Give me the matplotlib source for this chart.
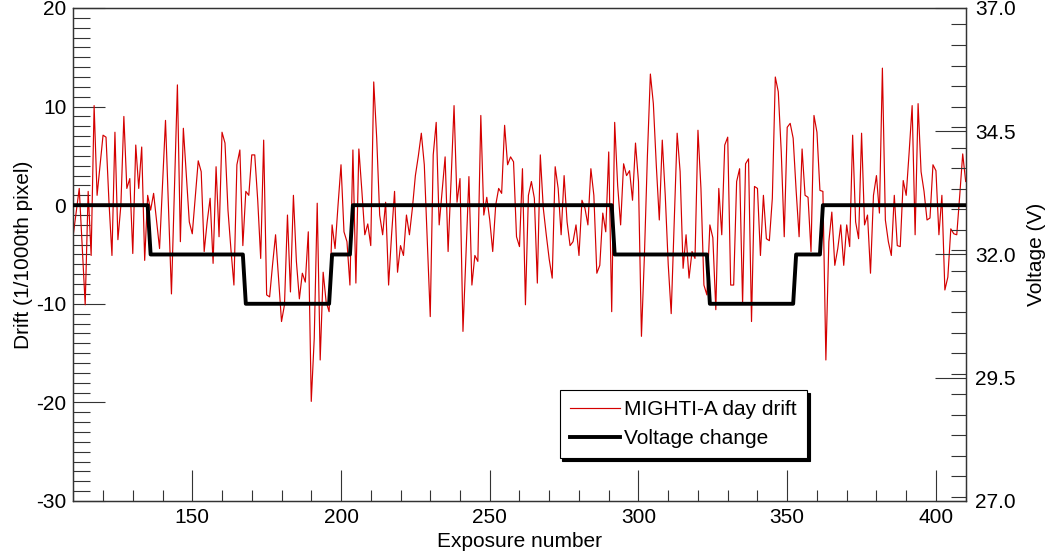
import matplotlib
matplotlib.use("Agg")
import matplotlib.pyplot as plt
from matplotlib.ticker import MultipleLocator

plt.rcParams['font.family'] = ['Liberation Sans', 'DejaVu Sans']
plt.rcParams['axes.unicode_minus'] = False

# ---------------- data ----------------
exposure = [110, 112, 114, 115, 116, 117, 118, 120, 121, 122, 123, 124, 125, 126, 127, 128, 129, 130,
            131, 132, 133, 134, 135, 136, 137, 139, 141, 143, 145, 146, 147, 149, 150, 152, 153, 154,
            155, 156, 157, 158, 159, 160, 161, 162, 163, 164, 165, 166, 167, 168, 169, 170, 171, 172,
            173, 174, 175, 176, 177, 178, 180, 181, 182, 183, 184, 185, 186, 187, 188, 189, 190, 191,
            192, 193, 194, 195, 196, 197, 198, 199, 200, 201, 202, 203, 204, 205, 206, 207, 208, 209,
            210, 211, 212, 213, 214, 215, 216, 217, 218, 219, 220, 221, 222, 223, 224, 225, 226, 227,
            228, 229, 230, 231, 232, 233, 234, 235, 236, 237, 238, 239, 240, 241, 242, 243, 244, 245,
            246, 247, 248, 249, 250, 251, 252, 253, 254, 255, 256, 257, 258, 259, 260, 261, 262, 263,
            264, 265, 266, 267, 268, 269, 270, 271, 272, 273, 274, 275, 276, 277, 278, 279, 280, 281,
            282, 283, 284, 285, 286, 287, 288, 289, 290, 291, 292, 293, 294, 295, 296, 297, 298, 299,
            300, 301, 302, 303, 304, 305, 306, 307, 308, 309, 310, 311, 312, 313, 314, 315, 316, 317,
            318, 319, 320, 321, 322, 323, 324, 325, 326, 327, 328, 329, 330, 331, 332, 333, 334, 335,
            336, 337, 338, 339, 340, 341, 342, 343, 344, 345, 346, 347, 348, 349, 350, 351, 352, 353,
            354, 355, 356, 357, 358, 359, 360, 361, 362, 363, 364, 365, 366, 367, 368, 369, 370, 371,
            372, 373, 374, 375, 376, 377, 378, 379, 380, 381, 382, 383, 384, 385, 386, 387, 388, 389,
            390, 391, 392, 393, 394, 395, 396, 397, 398, 399, 400, 401, 402, 403, 404, 405, 406, 407,
            408, 409, 410]
drift = [-3.0, 1.7, -10.1, 1.4, -5.1, 10.1, 1.0, 7.1, 6.9, 0.3, -5.1, 7.4, -3.5, 0.0, 9.0, 1.7, 2.7, -4.9,
         6.1, 1.7, 5.9, -5.6, 1.0, -0.5, 1.2, -4.4, 8.6, -9.0, 12.2, -3.7, 7.8, -1.7, -2.9, 4.5, 3.4, -4.7,
         -1.7, 0.7, -5.9, 3.9, -3.2, 7.4, 6.3, -0.5, -4.5, -8.1, 4.1, 5.6, -4.1, 1.4, 1.0, 5.1, 5.1, 0.5,
         -5.4, 6.6, -9.1, -9.3, -6.0, -3.0, -11.8, -10.1, -1.0, -8.8, 1.0, -5.7, -9.5, -6.9, -7.8, -2.7, -19.9, -13.5,
         0.2, -15.7, -6.8, -9.8, -10.8, -2.0, -4.4, 0.0, 4.1, -2.7, -3.7, -8.1, 5.6, -7.9, 5.7, 1.5, -3.0, -1.9,
         -4.1, 12.5, 6.8, -1.0, -3.0, 0.3, -8.1, -3.0, 1.4, -6.8, -4.1, -5.1, -1.0, -3.0, -0.3, 3.0, 5.0, 7.3,
         4.1, -3.7, -11.3, 5.1, 8.4, -2.0, 1.5, 4.9, -4.7, 2.5, 10.1, 0.3, 2.7, -12.8, -5.1, 2.9, -8.1, -5.1,
         -5.7, 9.1, -1.0, 0.8, -1.5, -4.7, 0.0, 1.7, 1.2, 8.1, 4.1, 4.9, 4.4, -3.2, -4.2, 3.7, -10.1, 1.0,
         2.4, 0.7, -7.9, 5.1, -0.3, -3.0, -5.5, -7.4, 3.9, 1.7, -3.0, 3.0, -1.7, -4.1, -3.7, -2.0, -5.1, 0.5,
         -0.3, -2.0, 3.7, 1.0, -6.9, -6.1, -0.8, -2.7, 5.4, -10.8, 8.4, 2.0, -2.0, 4.2, 3.0, 3.5, 0.5, 6.3,
         2.4, -13.3, -5.1, 5.0, 13.3, 10.3, 4.0, -1.5, 6.6, 1.0, -6.0, -11.0, -1.7, 7.3, 3.4, -6.4, -3.0, -7.4,
         -4.7, -5.4, 7.6, 1.7, -8.1, -9.1, -2.0, -3.3, -10.6, 1.7, -3.0, 6.1, 6.9, -8.1, -8.1, 2.4, 3.7, -10.0,
         4.2, 4.7, -11.8, 1.9, 1.7, -5.1, 1.0, -3.4, -3.6, 0.7, 13.0, 11.5, 5.4, -3.2, 7.9, 8.3, 6.8, 1.5,
         -3.2, 5.7, 1.0, 0.8, -4.7, 9.1, 7.4, 1.5, 1.4, -15.7, -3.7, -0.7, -6.1, -4.4, -2.0, -6.1, -2.0, -4.2,
         7.1, -1.7, -3.4, 7.3, -2.0, -1.0, -6.9, 1.0, 3.0, -0.8, 13.9, -1.5, -3.7, -5.1, 1.0, -4.1, -4.2, 2.5,
         1.0, 5.4, 10.1, -3.0, 10.3, 3.4, 1.4, -1.5, -1.3, 4.1, 3.5, -3.0, 1.0, -8.6, -7.3, -2.4, -2.9, -3.0,
         1.0, 5.2, 2.4]

volt_exposure = [110, 135, 136, 167, 168, 196, 197, 203, 204, 291, 292, 323, 324, 352, 353, 361, 362, 410]
voltage = [33.0, 33.0, 32.0, 32.0, 31.0, 31.0, 32.0, 32.0, 33.0, 33.0, 32.0, 32.0, 31.0, 31.0, 32.0, 32.0, 33.0, 33.0]

left_ticks = [-30, -20, -10, 0, 10, 20]
right_ticks = [27.0, 29.5, 32.0, 34.5, 37.0]
x_ticks = [150, 200, 250, 300, 350, 400]

# ---------------- figure ----------------
fig = plt.figure(figsize=(10.5, 5.59), dpi=100)
ax = fig.add_axes([0.0698, 0.1038, 0.8499, 0.8819])
ax2 = ax.twinx()

axis_col = '#333333'
fs = 15
red_line, = ax.plot(exposure, drift, color='#d40000', lw=0.85, label='MIGHTI-A day drift', zorder=2)
blk_line, = ax2.plot(volt_exposure, voltage, color='black', lw=2.8, label='Voltage change', zorder=3)

ax.set_xlim(110, 410)
ax.set_ylim(-30, 20)
ax2.set_ylim(27, 37)

ax.set_xticks(x_ticks)
ax.xaxis.set_minor_locator(MultipleLocator(10))
ax.set_yticks(left_ticks)
ax.yaxis.set_minor_locator(MultipleLocator(1))
ax2.set_yticks(right_ticks)
ax2.set_yticklabels([f"{v:.1f}" for v in right_ticks])
ax2.yaxis.set_minor_locator(MultipleLocator(2.5 / 6))

ax.tick_params(axis='y', which='major', direction='in', length=23, width=0.8, color=axis_col,
               labelsize=fs, pad=5, left=True, right=False)
ax.tick_params(axis='y', which='minor', direction='in', length=12, width=0.8, color=axis_col, right=False)
ax.tick_params(axis='x', which='major', direction='in', length=22, width=0.8, color=axis_col,
               labelsize=fs, pad=5, top=False)
ax.tick_params(axis='x', which='minor', direction='in', length=8, width=0.8, color=axis_col, top=False)
ax2.tick_params(axis='y', which='major', direction='in', length=22, width=0.8, color=axis_col,
                labelsize=fs, pad=7)
ax2.tick_params(axis='y', which='minor', direction='in', length=11, width=0.8, color=axis_col)

for a in (ax, ax2):
    for s in a.spines.values():
        s.set_color(axis_col)
        s.set_linewidth(0.9)

ax.set_xlabel('Exposure number', fontsize=fs, labelpad=4)
ax.set_ylabel('Drift (1/1000th pixel)', fontsize=fs, labelpad=2)
ax2.set_ylabel('Voltage (V)', fontsize=fs, labelpad=8)

ax.set_zorder(ax2.get_zorder() - 1)
ax.patch.set_visible(True)
ax2.patch.set_visible(False)

leg = ax2.legend(handles=[red_line, blk_line], loc='upper left', bbox_to_anchor=(0.545, 0.225),
                 borderaxespad=0, fontsize=fs, frameon=True, fancybox=False,
                 shadow={'color': 'black', 'alpha': 1.0}, handlelength=2.4, handletextpad=0.2,
                 borderpad=0.5, labelspacing=0.45)
leg.get_frame().set_edgecolor('black')
leg.get_frame().set_linewidth(0.8)
leg.get_frame().set_alpha(1.0)

fig.savefig('out.png', dpi=100)
